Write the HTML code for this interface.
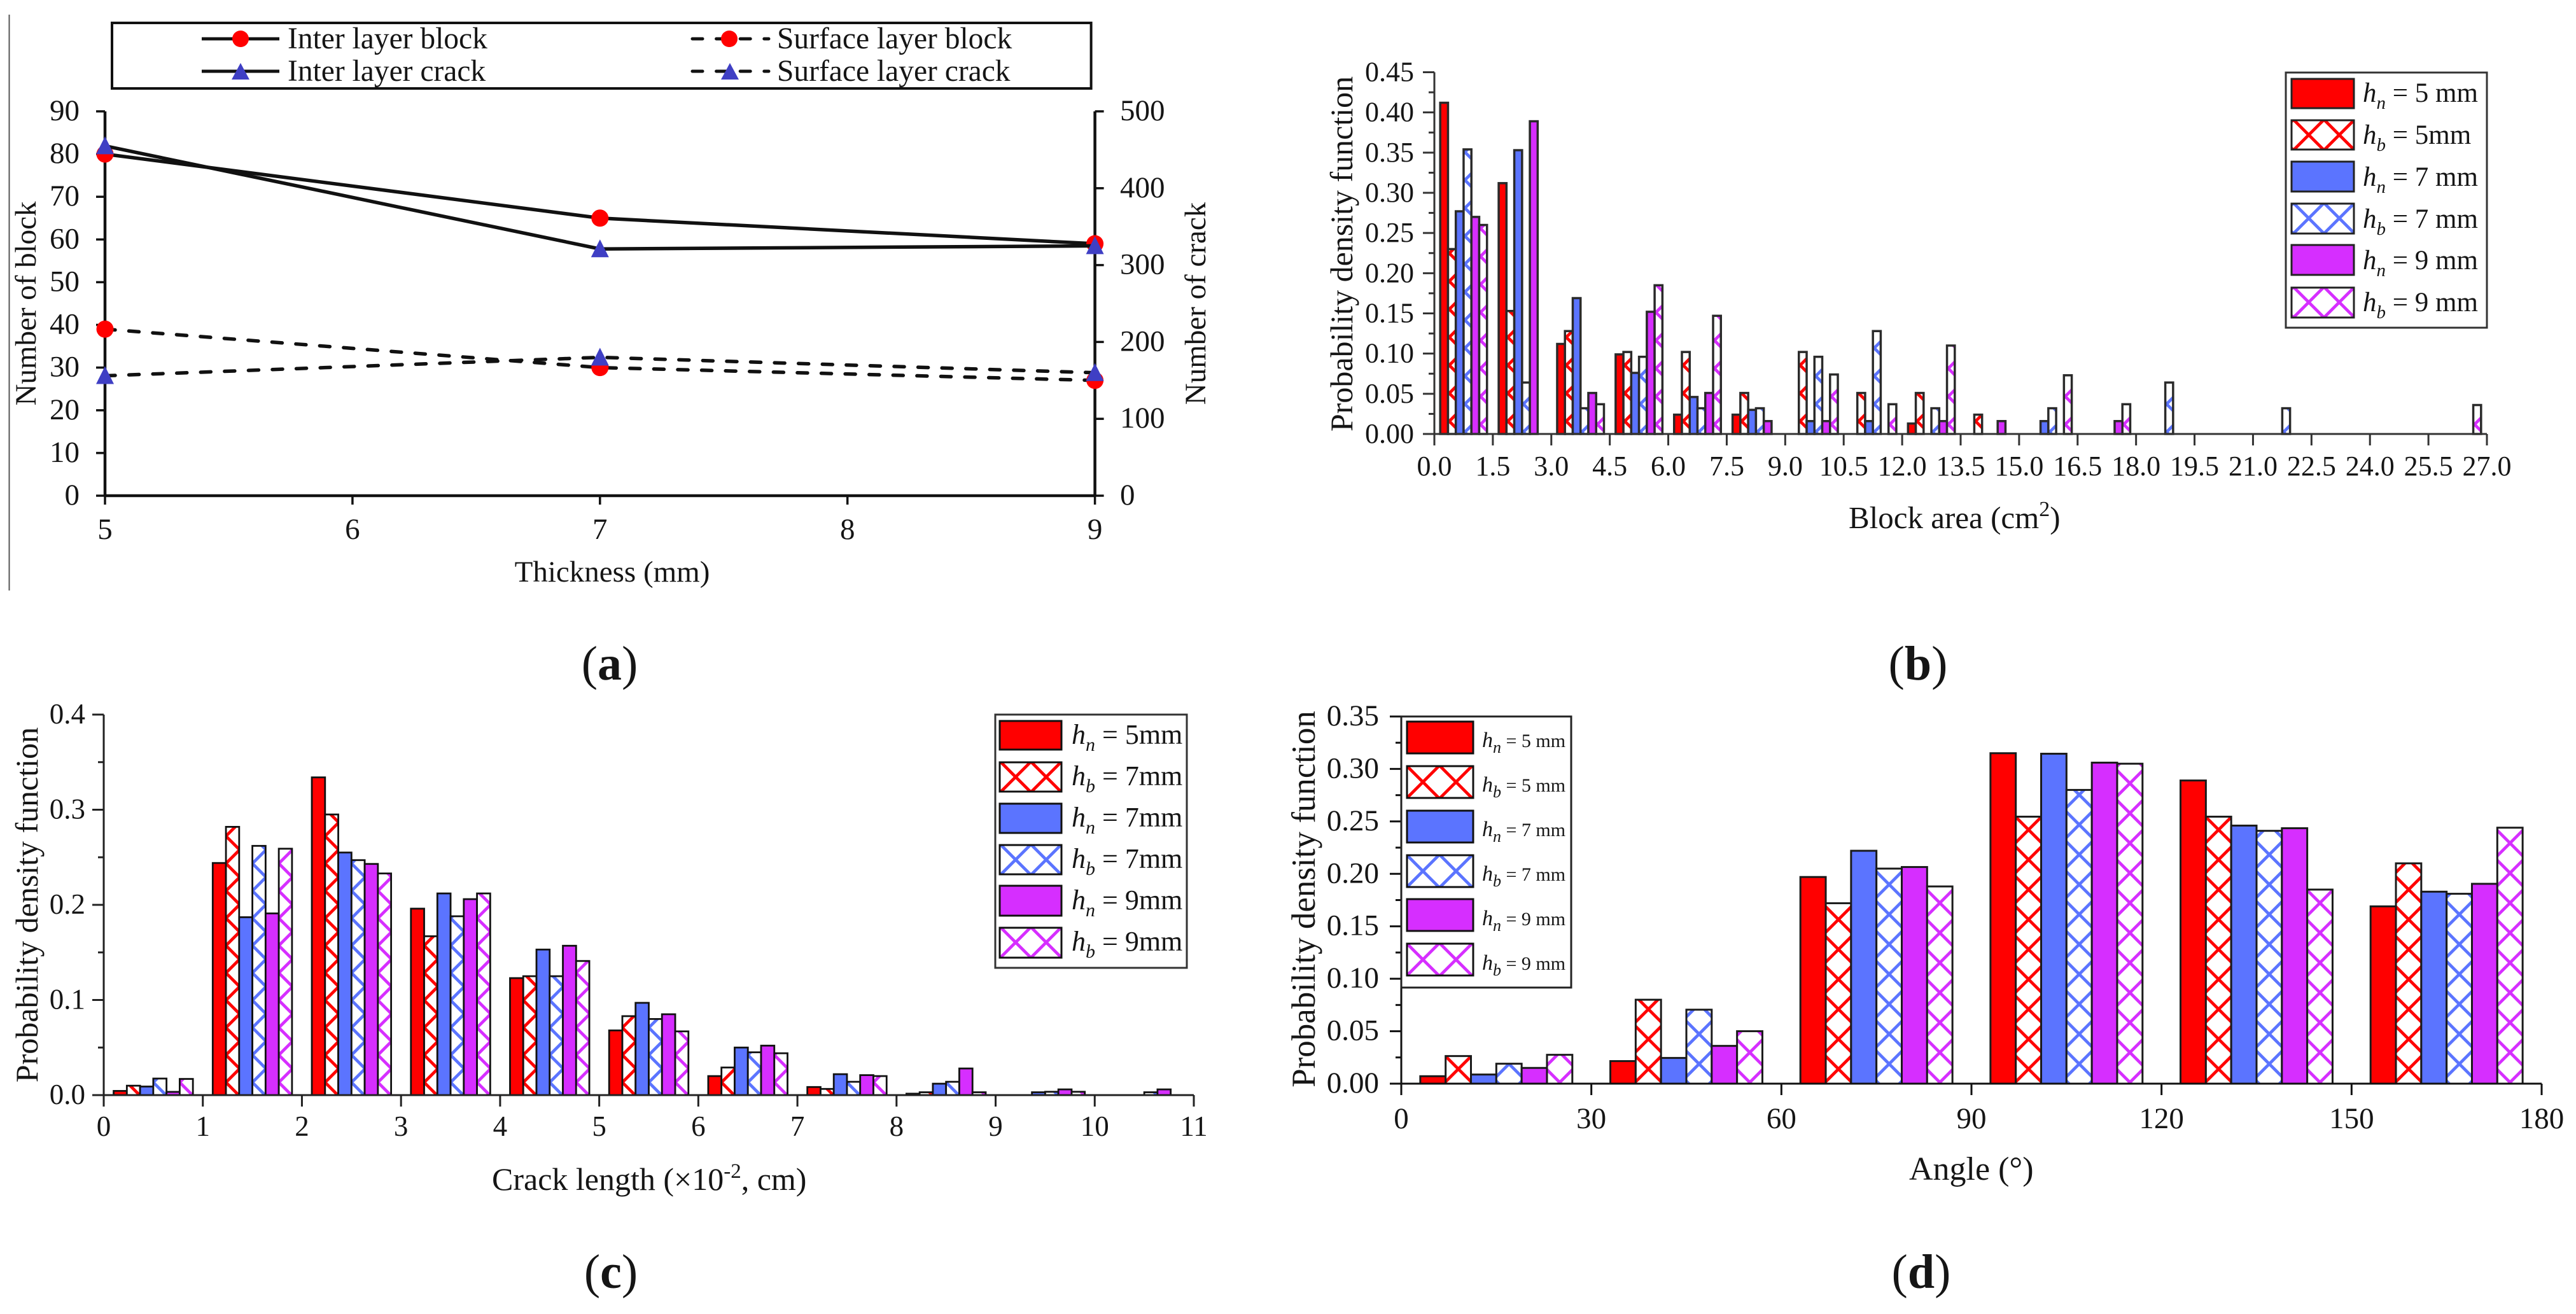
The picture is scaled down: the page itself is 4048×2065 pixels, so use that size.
<!DOCTYPE html>
<html lang="en">
<head>
<meta charset="utf-8">
<title>Block and crack statistics</title>
<style>
html,body{margin:0;padding:0;background:#fff;}
svg{display:block;}
text{font-family:"Liberation Serif",serif;fill:#151515;white-space:pre;}
</style>
</head>
<body>
<svg id="figure" xmlns="http://www.w3.org/2000/svg" width="4048" height="2065" viewBox="0 0 4048 2065">
<defs id="hatch-defs"></defs>
<rect x="0" y="0" width="4048" height="2065" fill="#fff"></rect>
<line x1="14.5" y1="23" x2="14.5" y2="928" stroke="#555" stroke-width="2"></line>

<!-- Panel a -->
<g id="panel-a">
  <g>
    <rect x="176" y="36" width="1538.6" height="103" fill="#fff" stroke="#111" stroke-width="4"></rect>
    <g>
      <line x1="317" y1="61" x2="439" y2="61" stroke="#111" stroke-width="5"></line>
      <circle cx="378" cy="61" r="13" fill="#ff0000"></circle>
      <text x="452" y="76" font-size="47.5">Inter layer block</text>
    </g>
    <g>
      <line x1="317" y1="112" x2="439" y2="112" stroke="#111" stroke-width="5"></line>
      <polygon points="378,99 392,125 364,125" fill="#3f3fc4"></polygon>
      <text x="452" y="127" font-size="47.5">Inter layer crack</text>
    </g>
    <g>
      <line x1="1088" y1="61" x2="1208" y2="61" stroke="#111" stroke-width="5" stroke-linecap="round" stroke-dasharray="16 21.6"></line>
      <circle cx="1146" cy="61" r="13" fill="#ff0000"></circle>
      <text x="1221" y="76" font-size="47.5">Surface layer block</text>
    </g>
    <g>
      <line x1="1088" y1="112" x2="1208" y2="112" stroke="#111" stroke-width="5" stroke-linecap="round" stroke-dasharray="16 21.6"></line>
      <polygon points="1147,99 1161,125 1133,125" fill="#3f3fc4"></polygon>
      <text x="1221" y="127" font-size="47.5">Surface layer crack</text>
    </g>
  </g>
  <text x="962" y="914" font-size="47" text-anchor="middle">Thickness (mm)</text>
  <text transform="translate(56 477) rotate(-90)" font-size="47" text-anchor="middle">Number of block</text>
  <text transform="translate(1894 477) rotate(-90)" font-size="47" text-anchor="middle">Number of crack</text>
</g>

<!-- Panel b -->
<g id="panel-b">
  <text x="2905" y="830" font-size="49">Block area (cm<tspan font-size="34" dy="-19">2</tspan><tspan dy="19">)</tspan></text>
  <text transform="translate(2125 399) rotate(-90)" font-size="50" text-anchor="middle">Probability density function</text>
</g>
<g>
  <rect x="3592" y="114" width="316" height="401" fill="#fff" stroke="#333" stroke-width="3"></rect>
  <rect x="3601" y="124" width="98" height="46" fill="#ff0000" stroke="#222" stroke-width="3"></rect>
  <text x="3713" y="160" font-size="43"><tspan font-style="italic">h</tspan><tspan font-style="italic" font-size="29" dy="11">n</tspan><tspan dy="-11"> = 5 mm</tspan></text>
  <g transform="translate(3628 212)"><rect x="-27" y="-23" width="98" height="46" fill="url(#hatch-red-48)" stroke="#222" stroke-width="3"></rect></g>
  <text x="3713" y="226" font-size="43"><tspan font-style="italic">h</tspan><tspan font-style="italic" font-size="29" dy="11">b</tspan><tspan dy="-11"> = 5mm</tspan></text>
  <rect x="3601" y="254" width="98" height="47" fill="#5b74ff" stroke="#222" stroke-width="3"></rect>
  <text x="3713" y="292" font-size="43"><tspan font-style="italic">h</tspan><tspan font-style="italic" font-size="29" dy="11">n</tspan><tspan dy="-11"> = 7 mm</tspan></text>
  <g transform="translate(3628 343)"><rect x="-27" y="-23" width="98" height="47" fill="url(#hatch-blue-48)" stroke="#222" stroke-width="3"></rect></g>
  <text x="3713" y="358" font-size="43"><tspan font-style="italic">h</tspan><tspan font-style="italic" font-size="29" dy="11">b</tspan><tspan dy="-11"> = 7 mm</tspan></text>
  <rect x="3601" y="385" width="98" height="47" fill="#d62eff" stroke="#222" stroke-width="3"></rect>
  <text x="3713" y="423" font-size="43"><tspan font-style="italic">h</tspan><tspan font-style="italic" font-size="29" dy="11">n</tspan><tspan dy="-11"> = 9 mm</tspan></text>
  <g transform="translate(3628 475)"><rect x="-27" y="-23" width="98" height="47" fill="url(#hatch-purple-48)" stroke="#222" stroke-width="3"></rect></g>
  <text x="3713" y="489" font-size="43"><tspan font-style="italic">h</tspan><tspan font-style="italic" font-size="29" dy="11">b</tspan><tspan dy="-11"> = 9 mm</tspan></text>
</g>

<!-- Panel c -->
<g id="panel-c">
  <text x="773" y="1870" font-size="50">Crack length (×10<tspan font-size="33" dy="-19">-2</tspan><tspan dy="19">, cm)</tspan></text>
  <text transform="translate(59 1422) rotate(-90)" font-size="50" text-anchor="middle">Probability density function</text>
</g>
<g>
  <rect x="1564" y="1123" width="301" height="398" fill="#fff" stroke="#333" stroke-width="3"></rect>
  <rect x="1571" y="1133" width="97" height="45" fill="#ff0000" stroke="#111" stroke-width="3"></rect>
  <text x="1684" y="1169" font-size="44"><tspan font-style="italic">h</tspan><tspan font-style="italic" font-size="30" dy="11">n</tspan><tspan dy="-11"> = 5mm</tspan></text>
  <g transform="translate(1596 1221)"><rect x="-25" y="-23" width="97" height="46" fill="url(#hatch-red-48)" stroke="#111" stroke-width="3"></rect></g>
  <text x="1684" y="1234" font-size="44"><tspan font-style="italic">h</tspan><tspan font-style="italic" font-size="30" dy="11">b</tspan><tspan dy="-11"> = 7mm</tspan></text>
  <rect x="1571" y="1263" width="97" height="46" fill="#5b74ff" stroke="#111" stroke-width="3"></rect>
  <text x="1684" y="1299" font-size="44"><tspan font-style="italic">h</tspan><tspan font-style="italic" font-size="30" dy="11">n</tspan><tspan dy="-11"> = 7mm</tspan></text>
  <g transform="translate(1596 1351)"><rect x="-25" y="-23" width="97" height="46" fill="url(#hatch-blue-48)" stroke="#111" stroke-width="3"></rect></g>
  <text x="1684" y="1364" font-size="44"><tspan font-style="italic">h</tspan><tspan font-style="italic" font-size="30" dy="11">b</tspan><tspan dy="-11"> = 7mm</tspan></text>
  <rect x="1571" y="1392" width="97" height="47" fill="#d62eff" stroke="#111" stroke-width="3"></rect>
  <text x="1684" y="1429" font-size="44"><tspan font-style="italic">h</tspan><tspan font-style="italic" font-size="30" dy="11">n</tspan><tspan dy="-11"> = 9mm</tspan></text>
  <g transform="translate(1596 1481)"><rect x="-25" y="-23" width="97" height="47" fill="url(#hatch-purple-48)" stroke="#111" stroke-width="3"></rect></g>
  <text x="1684" y="1494" font-size="44"><tspan font-style="italic">h</tspan><tspan font-style="italic" font-size="30" dy="11">b</tspan><tspan dy="-11"> = 9mm</tspan></text>
</g>

<!-- Panel d -->
<g id="panel-d">
  <text x="3000" y="1854" font-size="52">Angle (°)</text>
  <text transform="translate(2066 1413) rotate(-90)" font-size="53" text-anchor="middle">Probability density function</text>
</g>
<g>
  <rect x="2202" y="1126" width="267" height="426" fill="#fff" stroke="#222" stroke-width="3"></rect>
  <rect x="2211" y="1134" width="104" height="50" fill="#ff0000" stroke="#111" stroke-width="3"></rect>
  <text x="2329" y="1174" font-size="30"><tspan font-style="italic" font-size="34">h</tspan><tspan font-style="italic" font-size="26" dy="9">n</tspan><tspan dy="-9"> = 5 mm</tspan></text>
  <g transform="translate(2236 1229)"><rect x="-25" y="-25" width="104" height="50" fill="url(#hatch-red-52)" stroke="#111" stroke-width="3"></rect></g>
  <text x="2329" y="1244" font-size="30"><tspan font-style="italic" font-size="34">h</tspan><tspan font-style="italic" font-size="26" dy="9">b</tspan><tspan dy="-9"> = 5 mm</tspan></text>
  <rect x="2211" y="1274" width="104" height="50" fill="#5b74ff" stroke="#111" stroke-width="3"></rect>
  <text x="2329" y="1314" font-size="30"><tspan font-style="italic" font-size="34">h</tspan><tspan font-style="italic" font-size="26" dy="9">n</tspan><tspan dy="-9"> = 7 mm</tspan></text>
  <g transform="translate(2236 1369)"><rect x="-25" y="-25" width="104" height="50" fill="url(#hatch-blue-52)" stroke="#111" stroke-width="3"></rect></g>
  <text x="2329" y="1384" font-size="30"><tspan font-style="italic" font-size="34">h</tspan><tspan font-style="italic" font-size="26" dy="9">b</tspan><tspan dy="-9"> = 7 mm</tspan></text>
  <rect x="2211" y="1413" width="104" height="50" fill="#d62eff" stroke="#111" stroke-width="3"></rect>
  <text x="2329" y="1454" font-size="30"><tspan font-style="italic" font-size="34">h</tspan><tspan font-style="italic" font-size="26" dy="9">n</tspan><tspan dy="-9"> = 9 mm</tspan></text>
  <g transform="translate(2236 1508)"><rect x="-25" y="-25" width="104" height="50" fill="url(#hatch-purple-52)" stroke="#111" stroke-width="3"></rect></g>
  <text x="2329" y="1524" font-size="30"><tspan font-style="italic" font-size="34">h</tspan><tspan font-style="italic" font-size="26" dy="9">b</tspan><tspan dy="-9"> = 9 mm</tspan></text>
</g>

<!-- Captions -->
<text x="958" y="1068" font-size="76" text-anchor="middle">(<tspan font-weight="bold">a</tspan>)</text>
<text x="3014" y="1068" font-size="76" text-anchor="middle">(<tspan font-weight="bold">b</tspan>)</text>
<text x="960" y="2024" font-size="76" text-anchor="middle">(<tspan font-weight="bold">c</tspan>)</text>
<text x="3019" y="2024" font-size="76" text-anchor="middle">(<tspan font-weight="bold">d</tspan>)</text>
</svg>

<script>
// ---- Panel (a) data ----
const thicknessValues = [5, 7, 9];
const thicknessTicks = ['5', '6', '7', '8', '9'];
const blockCountTicks = ['0', '10', '20', '30', '40', '50', '60', '70', '80', '90'];
const crackCountTicks = ['0', '100', '200', '300', '400', '500'];
const interLayerBlock = [80, 65, 59];
const surfaceLayerBlock = [39, 30, 27];
const interLayerCrack = [455, 321, 325];
const surfaceLayerCrack = [156, 180, 160];

// ---- Panel (b) data: block area, one value per 1.5 cm2 bin ----
const areaTicks = ['0.0','1.5','3.0','4.5','6.0','7.5','9.0','10.5','12.0','13.5','15.0','16.5','18.0','19.5','21.0','22.5','24.0','25.5','27.0'];
const areaPdfTicks = ['0.00','0.05','0.10','0.15','0.20','0.25','0.30','0.35','0.40','0.45'];
const areaHn5 = [0.412,0.312,0.112,0.099,0.024,0.024,0,0,0.013,0,0,0,0,0,0,0,0,0];
const areaHb5 = [0.230,0.153,0.128,0.102,0.102,0.051,0.102,0.051,0.051,0.024,0,0,0,0,0,0,0,0];
const areaHn7 = [0.277,0.353,0.169,0.076,0.046,0.030,0.016,0.016,0,0,0.016,0,0,0,0,0,0,0];
const areaHb7 = [0.354,0.064,0.032,0.096,0.032,0.032,0.096,0.128,0.032,0,0.032,0,0.064,0,0.032,0,0,0];
const areaHn9 = [0.270,0.389,0.051,0.152,0.051,0.016,0.016,0,0.016,0.016,0,0.016,0,0,0,0,0,0];
const areaHb9 = [0.260,0,0.037,0.185,0.147,0,0.074,0.037,0.110,0,0.073,0.037,0,0,0,0,0,0.036];

// ---- Panel (c) data: crack length, one value per unit bin ----
const lengthTicks = ['0','1','2','3','4','5','6','7','8','9','10','11'];
const lengthPdfTicks = ['0.0','0.1','0.2','0.3','0.4'];
const lengthHn5 = [0.0044,0.244,0.334,0.196,0.123,0.068,0.020,0.0085,0.0015,0,0];
const lengthHb5 = [0.0099,0.282,0.295,0.167,0.125,0.083,0.029,0.0065,0.003,0,0];
const lengthHn7 = [0.009,0.187,0.255,0.212,0.153,0.097,0.050,0.022,0.012,0.003,0];
const lengthHb7 = [0.0174,0.262,0.247,0.188,0.125,0.080,0.045,0.014,0.014,0.0035,0.003];
const lengthHn9 = [0.0034,0.191,0.243,0.206,0.157,0.085,0.052,0.021,0.028,0.006,0.006];
const lengthHb9 = [0.017,0.259,0.233,0.212,0.141,0.067,0.044,0.020,0.003,0.0035,0];

// ---- Panel (d) data: angle, one value per 30 degree bin ----
const angleTicks = ['0','30','60','90','120','150','180'];
const anglePdfTicks = ['0.00','0.05','0.10','0.15','0.20','0.25','0.30','0.35'];
const angleHn5 = [0.0071,0.0215,0.197,0.315,0.289,0.169];
const angleHb5 = [0.0263,0.080,0.172,0.2545,0.2545,0.210];
const angleHn7 = [0.0087,0.0245,0.222,0.3145,0.246,0.183];
const angleHb7 = [0.019,0.0705,0.205,0.280,0.241,0.181];
const angleHn9 = [0.015,0.036,0.2065,0.306,0.2435,0.1905];
const angleHb9 = [0.0275,0.050,0.188,0.305,0.185,0.244];

const seriesKeys = ['hn-5','hb-5','hn-7','hb-7','hn-9','hb-9'];
const SVG_NS = 'http://www.w3.org/2000/svg';

function mk(tag, parent, attrs) {
  const el = document.createElementNS(SVG_NS, tag);
  for (const k in attrs) el.setAttribute(k, attrs[k]);
  parent.appendChild(el);
  return el;
}
function linear(d0, d1, r0, r1) {
  return function (v) { return r0 + (v - d0) * (r1 - r0) / (d1 - d0); };
}

// Hatch patterns: a lattice of 45 degree lines, white background
const hatchColours = { red: '#ff0000', blue: '#5b74ff', purple: '#d62eff' };
const hatchPeriods = [43, 44, 47, 48, 52];
const defsEl = document.getElementById('hatch-defs');
for (const name in hatchColours) {
  hatchPeriods.forEach(function (p) {
    const pat = mk('pattern', defsEl, { id: 'hatch-' + name + '-' + p, patternUnits: 'userSpaceOnUse', x: 0, y: 0, width: p, height: p });
    
    
    mk('rect', pat, { x: 0, y: 0, width: p, height: p, fill: '#fff' });
    let d = '';
    [-p, 0, p].forEach(function (o) {
      d += 'M' + o + ' 0L' + (o + p) + ' ' + p + 'M' + (o + p) + ' 0L' + o + ' ' + p;
    });
    mk('path', pat, { d: d, stroke: hatchColours[name], 'stroke-width': 4.8, fill: 'none' });
  });
}

function addLine(parent, x1, y1, x2, y2, colour, width, name) {
  const el = mk('line', parent, { x1: x1, y1: y1, x2: x2, y2: y2, stroke: colour, 'stroke-width': width });
  
  
  return el;
}
function addText(parent, x, y, size, anchor, str, name) {
  const el = mk('text', parent, { x: x, y: y, 'font-size': size, 'text-anchor': anchor });
  el.textContent = str;
  
  
  return el;
}

// ---- Panel (a) ----
(function () {
  const root = document.getElementById('panel-a');
  const xA = linear(5, 9, 165, 1720.6);
  const yBlock = linear(0, 90, 779, 175);
  const yCrack = linear(0, 500, 779, 175);
  const axisColour = '#111';

  addLine(root, xA(5), yBlock(0), xA(9), yBlock(0), axisColour, 4.5, 'x-axis-line');
  addLine(root, xA(5), yBlock(0), xA(5), yBlock(90), axisColour, 4.5, 'left-y-axis-line');
  addLine(root, xA(9), yCrack(0), xA(9), yCrack(500), axisColour, 4.5, 'right-y-axis-line');

  thicknessTicks.forEach(function (t) {
    const x = xA(parseFloat(t));
    addLine(root, x, yBlock(0), x, yBlock(0) + 14, axisColour, 3.5, 'x-tick');
    addText(root, x, 847, 47, 'middle', t, 'x-tick-label');
  });
  blockCountTicks.forEach(function (t) {
    const y = yBlock(parseFloat(t));
    addLine(root, xA(5) - 14, y, xA(5), y, axisColour, 3.5, 'left-y-tick');
    addText(root, 125, y + 14, 47, 'end', t, 'left-y-tick-label');
  });
  crackCountTicks.forEach(function (t) {
    const y = yCrack(parseFloat(t));
    addLine(root, xA(9), y, xA(9) + 14, y, axisColour, 3.5, 'right-y-tick');
    addText(root, 1760, y + 14, 47, 'start', t, 'right-y-tick-label');
  });

  function drawSeries(values, yFn, dashed, marker, name) {
    const g = mk('g', root, {});
    
    
    const pts = values.map(function (v, i) { return xA(thicknessValues[i]) + ',' + yFn(v); }).join(' ');
    const attrs = { points: pts, fill: 'none', stroke: '#111', 'stroke-width': 5.5 };
    if (dashed) {
      attrs['stroke-dasharray'] = '16 21.6';
      attrs['stroke-linecap'] = 'round';
    }
    const poly = mk('polyline', g, attrs);
    
    
    values.forEach(function (v, i) {
      const cx = xA(thicknessValues[i]);
      const cy = yFn(v);
      let m;
      if (marker === 'circle') {
        m = mk('circle', g, { cx: cx, cy: cy, r: 13.5, fill: '#ff0000' });
      } else {
        m = mk('polygon', g, { points: cx + ',' + (cy - 15) + ' ' + (cx + 14) + ',' + (cy + 13) + ' ' + (cx - 14) + ',' + (cy + 13), fill: '#3f3fc4' });
      }
      
      
    });
  }
  drawSeries(interLayerBlock, yBlock, false, 'circle', 'inter-layer-block');
  drawSeries(surfaceLayerBlock, yBlock, true, 'circle', 'surface-layer-block');
  drawSeries(interLayerCrack, yCrack, false, 'triangle', 'inter-layer-crack');
  drawSeries(surfaceLayerCrack, yCrack, true, 'triangle', 'surface-layer-crack');
})();

// ---- Histogram panels ----
function drawHistogram(cfg) {
  const root = document.getElementById(cfg.rootId);
  const xMax = parseFloat(cfg.xTicks[cfg.xTicks.length - 1]);
  const yMax = parseFloat(cfg.yTicks[cfg.yTicks.length - 1]);
  const xFn = linear(0, xMax, cfg.left, cfg.right);
  const yFn = linear(0, yMax, cfg.base, cfg.top);
  const binW = parseFloat(cfg.xTicks[1]) - parseFloat(cfg.xTicks[0]);
  const barUnits = binW * 0.8 / cfg.series.length;
  const barPx = xFn(barUnits) - xFn(0);
  const fills = ['#ff0000', 'url(#hatch-red-' + cfg.period + ')', '#5b74ff', 'url(#hatch-blue-' + cfg.period + ')', '#d62eff', 'url(#hatch-purple-' + cfg.period + ')'];

  const barsG = mk('g', root, {});
  
  

  cfg.series.forEach(function (values, s) {
    const phase = cfg.hatchPhase[Math.floor(s / 2)];
    values.forEach(function (v, bin) {
      if (!(v > 0)) return;
      const x = xFn(bin * binW + 0.1 * binW + s * barUnits);
      const h = yFn(0) - yFn(v);
      const g = mk('g', barsG, { transform: 'translate(' + (x + cfg.hatchX) + ' ' + (yFn(0) - phase) + ')' });
      
      
      mk('rect', g, { x: -cfg.hatchX, y: phase - h, width: barPx, height: h, fill: fills[s], stroke: cfg.barStroke, 'stroke-width': cfg.barWidth });
    });
  });

  const c = cfg.axisColour;
  addLine(root, xFn(0), yFn(0), xFn(xMax), yFn(0), c, 3, 'x-axis-line');
  addLine(root, xFn(0), yFn(0), xFn(0), yFn(yMax), c, 3, 'y-axis-line');

  cfg.xTicks.forEach(function (t) {
    const x = xFn(parseFloat(t));
    addLine(root, x, yFn(0), x, yFn(0) + 18, c, 3, 'x-tick');
    addText(root, x, cfg.xLabelY, cfg.labelSize, 'middle', t, 'x-tick-label');
  });
  cfg.yTicks.forEach(function (t, i) {
    const v = parseFloat(t);
    const y = yFn(v);
    addLine(root, xFn(0) - 18, y, xFn(0), y, c, 3, 'y-tick');
    addText(root, cfg.yLabelX, y + 14, cfg.labelSize, 'end', t, 'y-tick-label');
    if (i < cfg.yTicks.length - 1) {
      const ym = yFn((v + parseFloat(cfg.yTicks[i + 1])) / 2);
      addLine(root, xFn(0) - 9, ym, xFn(0), ym, c, 3, 'y-minor-tick');
    }
  });
}

drawHistogram({
  rootId: 'panel-b', left: 2254, right: 3908, top: 113.5, base: 682,
  xTicks: areaTicks, yTicks: areaPdfTicks,
  series: [areaHn5, areaHb5, areaHn7, areaHb7, areaHn9, areaHb9],
  period: 44, hatchX: 2, hatchPhase: [20, 3, 15], barStroke: '#2a2a2a', barWidth: 3.5,
  axisColour: '#333', labelSize: 44, xLabelY: 747, yLabelX: 2222
});
drawHistogram({
  rootId: 'panel-c', left: 163, right: 1876, top: 1123, base: 1721,
  xTicks: lengthTicks, yTicks: lengthPdfTicks,
  series: [lengthHn5, lengthHb5, lengthHn7, lengthHb7, lengthHn9, lengthHb9],
  period: 43, hatchX: 0, hatchPhase: [20, 20, 20], barStroke: '#111', barWidth: 2.8,
  axisColour: '#222', labelSize: 45, xLabelY: 1785, yLabelX: 134
});
drawHistogram({
  rootId: 'panel-d', left: 2202, right: 3994, top: 1126, base: 1703,
  xTicks: angleTicks, yTicks: anglePdfTicks,
  series: [angleHn5, angleHb5, angleHn7, angleHb7, angleHn9, angleHb9],
  period: 47, hatchX: 20, hatchPhase: [23, 31, 2], barStroke: '#1a1a1a', barWidth: 3,
  axisColour: '#111', labelSize: 47, xLabelY: 1773, yLabelX: 2167
});
</script>
</body>
</html>
